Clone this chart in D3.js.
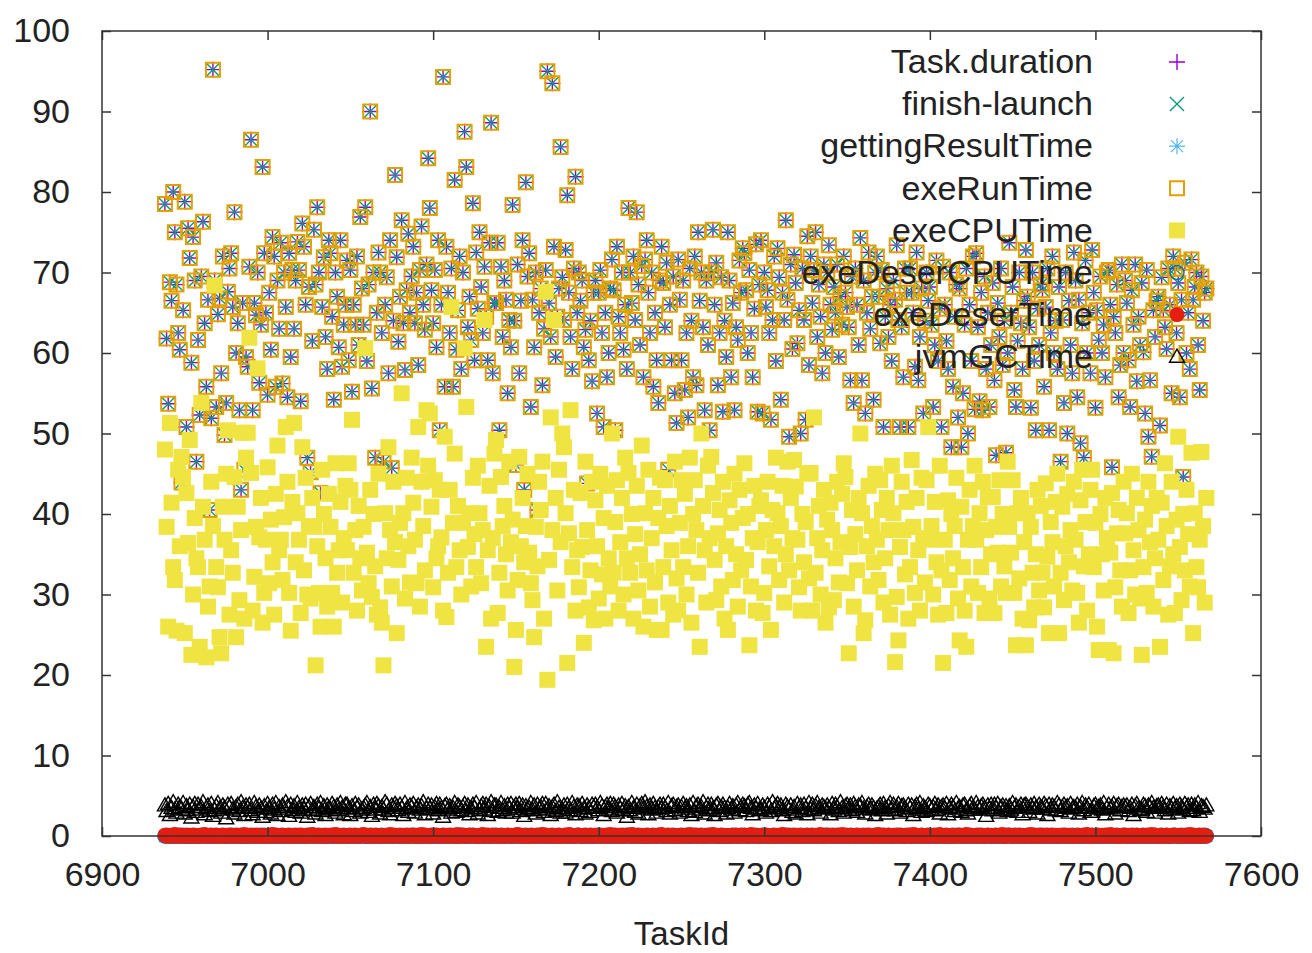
<!DOCTYPE html>
<html>
<head>
<meta charset="utf-8">
<script src="https://cdn.jsdelivr.net/npm/d3@7"></script>
<style>
  html, body { margin: 0; padding: 0; background: #fff; }
  svg { display: block; }
  text { font-family: "Liberation Sans", Arial, sans-serif; fill: #222; }
</style>
</head>
<body>
<svg id="chart" width="1312" height="953"></svg>
<script>
// Task ids run consecutively over the stage
const firstTaskId = 6938;
const lastTaskId = 7567;
const taskIds = d3.range(firstTaskId, lastTaskId + 1);

const xTicks = [6900, 7000, 7100, 7200, 7300, 7400, 7500, 7600];
const yTicks = [0, 10, 20, 30, 40, 50, 60, 70, 80, 90, 100];

// Task.duration per task (seconds), ten tasks per row
const taskDuration = [
  78.5,61.8,53.7,68.8,66.5,80.0,75.0,68.5,62.5,60.4,
  43.9,65.3,78.8,50.8,75.5,71.8,58.8,74.4,69.0,46.5,
  61.6,52.3,69.5,76.3,63.7,55.8,66.6,40.5,51.9,95.2,
  69.0,53.3,64.8,66.8,57.5,72.0,49.8,53.8,67.6,70.5,
  72.4,65.7,77.5,60.0,63.7,52.9,43.0,66.2,45.5,59.5,
  58.3,70.7,86.5,52.9,66.2,64.7,70.0,56.3,63.5,83.1,
  72.4,65.0,54.8,67.5,60.4,74.4,72.0,55.8,69.0,63.0,
  73.7,56.2,70.0,65.7,54.5,72.4,59.5,70.3,63.0,69.0,
  73.8,70.3,54.0,76.1,73.2,66.0,47.0,68.2,45.2,61.5,
  75.3,68.5,78.1,70.0,42.6,65.7,71.9,62.0,58.0,74.0,
  72.4,64.5,54.2,70.0,67.0,60.7,74.0,58.3,63.5,66.0,
  71.5,59.1,70.3,55.2,66.0,63.5,72.0,61.0,76.9,68.0,
  63.5,78.1,59.0,68.5,90.0,55.6,70.0,47.0,65.0,72.5,
  70.0,62.5,46.5,66.0,69.4,57.5,74.0,45.7,64.0,82.1,
  71.9,61.4,67.0,76.5,63.7,57.9,67.8,74.8,65.0,69.5,
  73.2,63.7,67.5,58.5,70.3,75.7,66.0,62.9,71.0,84.2,
  78.0,67.8,63.7,70.3,60.7,74.0,50.4,66.0,94.3,55.8,
  73.2,67.5,62.5,70.5,55.8,81.5,60.4,65.3,72.0,58.0,
  70.0,87.5,83.1,63.2,67.0,61.6,78.6,59.1,72.5,65.5,
  75.0,68.2,62.5,70.7,64.5,59.1,73.7,88.6,57.5,66.2,
  66.2,73.7,50.4,70.7,62.0,69.0,66.6,55.0,64.1,60.7,
  78.4,64.0,46.1,71.0,57.5,66.5,74.0,43.0,81.2,69.5,
  72.4,53.3,66.6,60.7,70.0,40.5,65.0,68.0,56.0,63.0,
  70.3,95.0,66.2,62.0,93.5,73.2,59.5,64.5,68.0,85.6,
  69.4,64.1,72.8,79.6,67.5,62.0,58.0,70.5,81.9,65.0,
  70.0,66.5,69.0,60.7,62.9,43.8,59.1,64.0,56.5,67.5,
  69.0,52.5,67.5,70.3,62.5,50.8,65.0,57.0,60.0,68.0,
  71.6,67.8,50.4,73.2,64.5,62.5,70.0,60.4,66.0,58.0,
  78.0,70.0,66.2,72.0,64.1,77.5,68.5,61.0,70.8,57.0,
  71.6,74.0,67.5,62.5,70.0,55.8,65.0,59.1,53.8,69.0,
  73.2,68.7,63.2,71.2,45.5,66.0,59.1,69.5,55.0,51.3,
  71.6,66.6,59.1,69.0,55.4,62.5,52.0,70.5,64.0,57.0,
  72.0,56.0,75.0,66.5,70.0,63.2,52.9,69.0,61.0,50.4,
  70.0,75.3,66.0,71.2,56.0,62.5,69.4,52.7,64.0,59.5,
  75.0,69.0,57.0,66.2,52.9,63.2,61.6,71.5,67.5,73.0,
  72.4,67.8,60.0,70.3,62.5,57.0,65.5,73.5,52.7,68.5,
  74.0,52.5,70.0,65.7,67.8,62.5,51.7,64.1,72.0,59.0,
  73.0,69.4,54.2,67.5,64.1,76.5,66.6,49.6,71.0,60.5,
  72.2,68.7,61.2,65.3,50.0,70.5,64.1,51.7,74.5,58.5,
  72.0,66.2,70.3,75.0,62.0,68.5,64.5,57.5,71.0,60.0,
  70.0,73.4,66.0,62.9,68.2,65.0,71.0,59.5,67.0,63.5,
  72.0,67.5,65.7,63.2,56.6,69.5,53.8,70.5,66.0,61.0,
  74.3,56.6,69.0,52.5,65.0,72.5,63.0,67.0,54.2,70.0,
  72.0,67.0,61.2,70.3,50.8,64.5,68.0,62.0,66.0,59.0,
  69.0,66.6,73.4,64.1,50.8,63.2,57.0,70.5,67.5,50.8,
  70.5,67.5,65.0,58.3,72.5,56.6,62.0,68.0,52.5,64.0,
  70.0,66.5,68.2,63.5,53.3,61.0,71.5,59.0,65.5,50.8,
  70.7,66.0,61.5,58.0,70.0,48.3,55.8,64.5,68.5,52.0,
  68.0,48.3,55.0,63.5,70.5,50.0,66.0,59.0,72.0,53.0,
  72.4,63.2,54.0,67.5,52.9,69.5,58.0,65.0,53.3,61.0,
  68.7,56.6,47.3,66.2,62.0,70.5,58.5,64.0,47.6,60.0,
  73.7,65.0,68.2,55.4,53.3,61.5,70.0,63.7,58.0,66.5,
  72.8,67.0,63.2,53.2,70.0,59.0,50.4,65.5,61.0,68.5,
  67.8,55.8,65.7,70.5,50.4,62.5,72.0,60.0,64.0,58.0,
  68.2,46.5,64.1,53.8,70.0,50.0,66.5,61.0,57.5,72.5,
  69.0,54.5,66.6,48.8,63.7,47.0,71.5,60.0,65.0,57.5,
  72.8,67.5,53.2,65.3,61.6,69.5,60.0,63.5,57.0,70.0,
  70.3,66.0,45.8,64.5,62.5,68.5,54.5,58.5,71.0,60.0,
  69.0,66.2,59.1,53.3,67.8,63.5,71.0,56.5,64.5,61.0,
  68.7,60.1,52.5,70.3,49.6,56.6,47.1,65.3,62.0,66.5,
  67.0,51.0,69.4,65.3,63.2,60.5,70.5,66.0,55.0,72.0,
  70.5,62.5,68.7,54.5,66.6,44.6,71.2,60.0,65.0,58.0,
  71.6,66.6,68.2,70.0,61.0,55.4,69.5,64.0,67.5,68.0
];

// finish minus launch and executor run time read the same as the duration
const finishLaunch = taskDuration.slice();
const exeRunTime = taskDuration.slice();

// exeCPUTime per task (seconds)
const exeCPUTime = [
  48.0,38.4,26.0,51.3,41.4,33.4,31.8,25.5,45.5,36.0,
  47.1,44.6,25.2,42.6,36.4,49.2,22.5,30.0,39.5,34.5,
  33.4,23.5,53.8,40.9,36.8,22.2,28.5,31.0,44.0,38.5,
  68.4,33.4,30.9,24.7,22.7,40.9,36.8,45.0,50.4,27.5,
  35.5,32.7,44.6,24.7,40.9,29.3,38.0,50.1,27.0,47.0,
  50.1,61.9,45.1,28.0,32.2,38.4,58.1,37.1,42.0,26.5,
  30.2,36.8,45.8,31.4,39.3,34.0,27.5,42.5,48.5,35.5,
  36.8,31.8,39.6,50.8,44.0,30.2,25.5,41.5,51.3,34.0,
  40.1,36.8,27.7,48.3,33.0,44.5,30.0,38.5,29.5,42.0,
  38.4,21.2,36.0,30.2,26.0,45.5,40.0,34.5,28.5,42.5,
  38.4,30.2,26.0,46.3,32.7,35.5,41.5,29.0,37.0,43.5,
  35.5,46.3,43.0,51.7,32.7,38.0,28.0,41.0,34.5,30.5,
  38.4,60.6,35.2,31.4,43.0,29.7,40.0,33.5,27.5,45.0,
  28.4,26.5,21.2,40.1,34.5,48.3,38.0,31.0,44.0,36.5,
  25.2,34.3,38.9,55.0,40.1,29.5,44.5,36.0,31.5,47.0,
  41.4,36.8,31.4,50.8,28.5,44.0,38.5,33.0,52.9,46.0,
  52.5,40.9,30.9,44.2,34.5,36.0,43.0,37.1,28.0,49.6,
  27.2,32.7,43.0,65.7,38.9,47.5,33.4,41.0,35.5,30.0,
  38.9,60.6,53.3,35.9,40.1,31.0,44.5,37.5,33.4,46.0,
  40.1,31.4,38.0,64.1,23.5,35.5,43.5,27.0,37.0,47.5,
  49.2,27.7,32.7,44.6,38.5,41.0,35.0,30.5,46.5,36.5,
  39.3,21.0,25.6,31.8,47.1,36.0,42.0,34.0,38.5,45.0,
  35.2,31.4,29.3,24.7,38.4,33.5,44.0,40.5,46.5,27.0,
  67.6,19.4,34.3,52.0,38.0,64.1,42.0,30.5,45.5,36.5,
  50.0,48.3,40.1,21.5,37.6,52.9,33.4,43.0,28.0,35.5,
  30.9,42.6,35.9,24.0,46.5,38.0,28.4,33.0,44.0,26.8,
  41.7,36.0,29.5,45.0,32.5,39.5,27.0,43.5,34.5,31.0,
  50.0,32.7,39.0,44.2,28.0,36.5,42.0,30.0,47.0,34.5,
  45.1,32.7,40.0,27.0,37.5,43.5,30.5,35.0,48.5,26.0,
  40.1,33.0,45.5,28.5,37.0,42.0,31.5,25.6,39.5,44.5,
  25.6,33.4,44.2,38.5,29.0,41.0,35.5,27.5,46.5,32.0,
  28.0,38.9,44.2,33.4,42.5,30.0,36.0,47.0,26.5,40.0,
  44.2,38.0,32.7,23.5,50.0,41.0,35.5,29.0,46.0,37.0,
  47.1,42.6,34.3,29.3,37.6,40.5,31.0,44.0,27.0,36.0,
  25.6,41.7,38.9,31.8,45.0,35.0,28.5,43.0,33.0,39.5,
  46.3,34.3,40.0,23.7,31.0,37.0,43.5,28.0,36.5,41.0,
  41.7,27.7,30.2,38.0,44.0,33.5,25.6,40.5,36.0,47.0,
  40.1,31.8,38.5,43.5,29.0,35.0,46.5,33.0,42.0,37.0,
  46.7,43.4,36.8,30.9,28.0,40.0,34.0,39.0,45.0,32.0,
  45.1,28.0,52.0,32.7,37.0,41.0,30.0,35.5,43.0,26.5,
  39.3,28.4,41.4,38.0,29.3,34.5,44.0,31.5,36.5,42.5,
  46.3,44.6,31.4,22.7,35.9,40.5,28.5,37.5,33.0,42.0,
  50.0,40.1,25.2,26.8,36.0,43.5,31.0,38.5,34.0,45.0,
  36.8,31.8,44.2,40.5,29.0,34.5,42.0,38.0,27.5,46.0,
  40.1,21.6,29.7,24.3,35.9,44.0,38.0,32.5,41.5,27.0,
  33.4,46.7,38.4,30.2,42.0,35.5,28.0,44.5,37.0,31.5,
  44.2,50.8,36.8,38.5,30.0,41.5,34.0,27.5,46.0,33.0,
  21.5,36.8,27.7,41.7,31.8,40.0,34.5,38.5,44.5,29.5,
  24.3,40.9,33.4,28.0,23.5,36.8,43.0,31.0,38.5,46.0,
  36.8,30.2,40.1,33.4,44.0,27.7,38.0,42.1,29.5,35.0,
  42.1,27.7,38.4,35.2,44.2,31.0,40.0,33.5,30.2,46.5,
  38.4,35.2,44.2,30.2,23.7,40.1,32.0,42.0,27.0,36.5,
  23.7,40.1,26.8,38.4,32.7,28.4,35.0,43.0,30.5,41.0,
  32.7,28.4,43.8,34.7,25.2,39.0,36.5,31.0,41.5,45.0,
  25.2,32.7,40.9,29.3,36.0,42.5,34.0,38.0,30.5,44.0,
  36.8,30.2,26.5,41.7,45.5,33.5,39.0,28.0,35.0,43.0,
  45.5,33.4,38.9,26.0,23.1,40.0,35.0,30.5,42.0,37.0,
  23.1,35.2,42.6,22.7,30.9,37.6,40.5,33.0,28.5,44.0,
  37.6,40.1,27.7,33.0,45.0,35.5,30.0,42.0,38.0,29.5,
  22.5,33.4,39.3,30.2,44.0,36.5,41.0,28.5,34.5,42.0,
  36.8,23.5,41.4,31.8,46.3,38.5,27.5,33.5,44.0,35.0,
  27.7,39.3,49.6,35.9,29.3,40.0,33.0,43.0,37.5,31.0,
  47.6,25.2,40.1,33.4,30.9,36.8,47.7,38.5,29.0,42.0
];

// jvmGCTime per task (seconds)
const jvmGCTime = [
  3.8,3.1,4.0,2.6,3.5,4.2,3.3,2.9,3.9,3.6,
  3.4,4.1,2.8,3.7,3.2,3.9,2.3,3.6,4.0,3.0,
  3.9,3.3,3.6,4.2,2.7,3.5,3.8,3.1,4.0,2.5,
  3.2,3.7,4.1,3.4,2.9,3.8,3.5,2.2,3.9,3.6,
  4.0,3.3,2.8,3.6,3.9,3.1,4.2,3.5,2.6,3.8,
  3.5,3.9,3.2,2.7,4.1,3.6,3.0,3.8,3.4,2.4,
  3.7,3.0,4.0,3.5,2.8,3.9,3.3,4.1,2.6,3.6,
  3.1,3.8,3.4,4.2,3.6,2.5,3.9,3.2,3.7,3.0,
  4.1,3.5,2.9,3.8,3.3,3.9,2.4,3.6,4.0,3.2,
  3.6,2.8,3.9,3.4,4.1,3.1,3.7,2.6,3.8,3.5,
  3.3,4.0,3.6,2.9,3.8,3.2,4.1,3.5,2.7,3.9,
  3.9,3.4,2.6,3.7,3.1,4.0,3.5,3.8,2.9,3.3,
  3.5,3.8,4.1,3.0,3.6,2.5,3.9,3.3,4.0,3.7,
  2.8,3.6,3.3,4.2,3.9,3.1,2.7,3.8,3.5,4.0,
  3.7,3.2,3.9,3.5,2.6,4.1,3.4,3.0,3.8,3.6,
  4.0,2.9,3.5,3.8,3.3,3.7,4.2,2.7,3.4,3.9,
  3.4,3.8,2.8,3.6,4.0,3.2,3.9,3.5,2.4,3.7,
  3.9,3.3,3.7,2.9,3.5,4.1,3.0,3.8,3.6,3.2,
  3.6,4.0,3.1,3.8,2.7,3.4,3.9,3.5,4.1,2.8,
  3.2,3.7,4.0,3.3,3.9,2.6,3.6,4.2,3.1,3.8,
  3.8,3.0,3.5,4.1,3.2,3.7,2.9,3.9,3.4,4.0,
  2.9,3.6,3.9,3.4,4.0,3.1,3.8,2.5,3.7,3.3,
  3.5,4.1,3.2,3.8,2.8,3.9,3.4,3.6,4.0,3.0,
  4.0,3.3,3.7,2.6,3.6,3.9,3.1,4.2,3.5,2.9,
  3.3,3.8,2.9,3.9,3.5,3.2,4.1,3.6,2.7,3.8,
  3.7,3.1,4.0,3.4,2.8,3.8,3.5,3.0,3.9,3.6,
  3.9,3.5,3.2,4.1,3.7,2.6,3.6,3.9,3.3,4.0,
  3.1,3.9,3.6,2.9,3.8,3.4,4.0,3.2,3.7,2.4,
  3.6,3.2,4.1,3.5,3.0,3.9,2.8,3.7,4.0,3.4,
  4.2,3.6,2.7,3.8,3.3,4.0,3.5,2.9,3.6,3.9,
  3.4,3.9,3.5,3.1,4.1,2.8,3.7,3.9,3.2,3.6,
  3.8,2.9,3.6,4.0,3.4,3.7,3.1,3.8,2.6,4.1,
  3.0,3.7,3.9,3.3,3.6,4.2,2.8,3.5,3.9,3.2,
  3.9,3.4,2.6,3.8,4.0,3.1,3.6,3.9,3.5,2.8,
  3.5,4.0,3.3,3.7,2.9,3.8,4.1,3.2,3.6,3.9,
  3.7,3.1,3.9,4.1,3.5,2.7,3.8,3.4,4.0,3.3,
  3.2,3.8,3.5,2.9,3.9,3.6,3.1,4.2,3.4,3.7,
  4.0,3.5,3.8,3.2,2.6,3.9,3.6,3.3,3.8,3.0,
  3.6,2.8,4.0,3.5,3.8,3.1,3.9,3.4,2.7,4.1,
  3.3,3.9,3.2,3.7,4.1,3.5,2.9,3.8,3.6,3.4,
  3.8,3.5,2.7,4.0,3.3,3.9,3.6,3.1,4.2,3.5,
  2.9,3.7,3.9,3.4,3.8,3.2,4.0,3.6,3.0,3.8,
  3.7,4.1,3.4,2.8,3.6,3.9,3.3,3.8,3.5,2.6,
  3.4,3.6,3.9,3.2,4.0,3.5,2.8,3.7,4.1,3.3,
  3.9,3.2,3.6,4.0,2.9,3.7,3.8,3.4,3.1,3.9,
  3.5,3.8,2.6,3.6,3.9,3.3,4.1,3.0,3.7,3.5,
  3.1,3.9,3.7,3.3,3.6,4.0,3.2,3.8,2.8,3.6,
  3.8,3.4,4.0,2.7,3.5,3.9,3.6,3.1,4.1,3.4,
  3.6,3.0,3.8,3.9,3.2,2.8,3.7,4.0,3.5,3.3,
  4.1,3.6,3.3,3.7,3.9,3.5,2.5,3.8,3.4,3.9,
  3.2,3.9,3.5,4.0,2.9,3.6,3.8,3.3,3.7,3.1,
  3.7,3.3,4.1,3.5,3.8,3.0,3.6,3.9,2.7,3.8,
  3.9,3.6,3.0,3.8,3.4,4.0,3.5,2.8,3.9,3.6,
  3.4,4.0,3.7,2.6,3.9,3.3,3.8,3.6,3.2,4.1,
  3.8,3.1,3.6,3.9,3.5,3.7,2.9,4.0,3.4,3.6,
  3.5,3.9,2.8,3.6,4.1,3.2,3.8,3.5,3.9,3.0,
  3.0,3.7,3.9,3.4,3.6,3.8,3.3,4.1,2.7,3.5,
  3.9,3.4,3.6,4.0,2.8,3.7,3.9,3.2,3.6,3.8,
  3.6,3.8,3.1,3.5,3.9,2.6,3.7,4.0,3.4,3.2,
  3.3,3.9,3.7,3.0,3.8,3.6,4.1,3.5,2.9,3.7,
  3.8,3.5,4.0,3.6,3.2,3.9,2.8,3.7,3.4,4.0,
  3.4,3.7,2.9,3.9,3.6,3.3,4.0,3.5,3.8,3.1,
  3.9,3.2,3.8,3.5,4.1,3.0,3.7,3.6,3.4,3.8
];

// Deserialisation and result-fetch times per task (seconds), all close to zero
const exeDeserTime = [
  0.1,0,0,0.1,0,0,0.2,0,0.1,0, 0,0.1,0,0,0,0.1,0,0,0.1,0, 0,0,0.1,0,0.2,0,0,0.1,0,0, 0.1,0,0,0,0.1,0,0,0.1,0,0,
  0,0.1,0,0,0.1,0,0,0,0.2,0, 0.1,0,0,0.1,0,0,0.1,0,0,0, 0,0,0.1,0,0,0.2,0,0,0.1,0, 0.1,0,0,0,0.1,0,0,0.1,0,0,
  0,0.1,0,0.1,0,0,0,0.1,0,0.2, 0,0,0.1,0,0,0.1,0,0,0,0.1, 0.1,0,0,0.2,0,0,0.1,0,0,0, 0,0.1,0,0,0.1,0,0,0,0.1,0,
  0.2,0,0.1,0,0,0.1,0,0,0.1,0, 0,0,0,0.1,0,0,0.2,0,0,0.1, 0.1,0,0,0,0.1,0,0,0.1,0,0, 0,0.1,0,0,0,0.2,0,0,0.1,0,
  0,0,0.1,0,0.1,0,0,0,0.1,0, 0.1,0,0,0.1,0,0,0,0.2,0,0, 0,0.1,0,0,0.1,0,0.1,0,0,0, 0,0,0.2,0,0,0.1,0,0,0.1,0,
  0.1,0,0,0,0.1,0,0,0.1,0,0.1, 0,0.1,0,0.2,0,0,0.1,0,0,0, 0,0,0.1,0,0,0.1,0,0,0.2,0, 0.1,0,0,0.1,0,0,0,0.1,0,0,
  0,0.1,0,0,0.2,0,0.1,0,0,0, 0.1,0,0,0.1,0,0,0,0.1,0,0.1, 0,0,0.1,0,0,0.1,0,0,0,0.2, 0,0.1,0,0,0.1,0,0,0.1,0,0,
  0.1,0,0.2,0,0,0.1,0,0,0.1,0, 0,0,0.1,0,0.1,0,0,0,0.1,0, 0.2,0,0,0.1,0,0,0.1,0,0,0, 0,0.1,0,0,0,0.1,0,0.2,0,0,
  0.1,0,0,0.1,0,0,0.1,0,0,0.1, 0,0.2,0,0,0.1,0,0,0.1,0,0, 0,0,0.1,0,0,0.1,0,0,0.1,0, 0.1,0,0,0,0.2,0,0.1,0,0,0,
  0,0.1,0,0.1,0,0,0,0.1,0,0, 0.1,0,0,0.2,0,0.1,0,0,0,0.1, 0,0,0.1,0,0,0,0.1,0,0.1,0, 0.1,0,0,0.1,0,0,0.2,0,0,0,
  0,0.1,0,0,0.1,0,0,0.1,0,0.2, 0,0,0.1,0,0,0.1,0,0,0.1,0, 0.1,0,0,0,0.1,0,0.1,0,0,0, 0,0.2,0,0,0.1,0,0,0.1,0,0,
  0.1,0,0.1,0,0,0.1,0,0,0,0.1, 0,0,0.2,0,0.1,0,0,0.1,0,0, 0.1,0,0,0.1,0,0,0.1,0,0.2,0, 0,0.1,0,0,0,0.1,0,0,0.1,0,
  0,0,0.1,0,0.2,0,0,0.1,0,0, 0.1,0,0,0.1,0,0,0,0.1,0,0.1, 0,0.1,0,0,0.1,0,0.2,0,0,0, 0.1,0,0,0,0.1,0,0,0.1,0,0,
  0,0.1,0,0.2,0,0,0.1,0,0,0.1, 0,0,0.1,0,0,0.1,0,0,0.1,0, 0.1,0,0,0.1,0,0,0.1,0,0,0, 0,0,0.1,0,0.1,0,0,0.2,0,0,
  0.1,0,0,0,0.1,0,0.1,0,0,0.1, 0,0.2,0,0,0.1,0,0,0,0.1,0, 0,0,0.1,0,0,0.1,0,0.1,0,0, 0.1,0,0,0.1,0,0,0.2,0,0.1,0,
  0,0.1,0,0,0,0.1,0,0,0.1,0, 0.1,0,0.1,0,0,0,0.1,0,0,0.2, 0,0.1,0,0,0.1,0,0,0.1,0,0
];

const exeDeserCPUTime = [
  0,0.1,0,0,0,0.1,0,0,0.1,0, 0.1,0,0,0.1,0,0,0,0.1,0,0, 0,0,0.1,0,0.1,0,0,0,0.1,0, 0,0.1,0,0,0,0.1,0,0,0,0.1,
  0.1,0,0,0.1,0,0,0.1,0,0,0, 0,0,0.1,0,0,0.1,0,0,0.1,0, 0.1,0,0,0,0.1,0,0,0.1,0,0, 0,0.1,0,0,0,0.1,0,0,0,0.1,
  0,0,0.1,0,0,0,0.1,0,0.1,0, 0.1,0,0,0.1,0,0,0,0.1,0,0, 0,0.1,0,0,0.1,0,0,0,0.1,0, 0,0,0.1,0,0,0.1,0,0,0,0.1,
  0.1,0,0,0,0.1,0,0,0.1,0,0, 0,0.1,0,0,0,0.1,0,0,0.1,0, 0,0,0.1,0,0,0,0.1,0,0,0.1, 0.1,0,0,0.1,0,0,0,0.1,0,0,
  0,0.1,0,0,0.1,0,0,0,0.1,0, 0,0,0.1,0,0,0.1,0,0,0,0.1, 0.1,0,0,0,0.1,0,0.1,0,0,0, 0,0.1,0,0,0,0.1,0,0,0.1,0,
  0.1,0,0,0.1,0,0,0,0.1,0,0, 0,0,0.1,0,0.1,0,0,0,0.1,0, 0,0.1,0,0,0,0.1,0,0.1,0,0, 0.1,0,0,0,0.1,0,0,0,0.1,0,
  0,0,0.1,0,0,0.1,0,0,0,0.1, 0.1,0,0,0,0.1,0,0,0.1,0,0, 0,0.1,0,0.1,0,0,0,0.1,0,0, 0,0,0.1,0,0,0,0.1,0,0,0.1,
  0.1,0,0,0.1,0,0,0.1,0,0,0, 0,0.1,0,0,0,0.1,0,0,0.1,0, 0.1,0,0,0,0.1,0,0,0.1,0,0, 0,0,0.1,0,0,0.1,0,0,0,0.1,
  0,0.1,0,0,0.1,0,0,0,0.1,0, 0.1,0,0.1,0,0,0,0.1,0,0,0, 0,0,0,0.1,0,0.1,0,0,0.1,0, 0.1,0,0,0,0.1,0,0,0.1,0,0,
  0,0.1,0,0.1,0,0,0,0,0.1,0, 0,0,0.1,0,0,0.1,0,0.1,0,0, 0.1,0,0,0,0.1,0,0,0,0.1,0, 0,0.1,0,0,0,0.1,0,0,0,0.1,
  0.1,0,0,0.1,0,0,0.1,0,0,0, 0,0.1,0,0,0.1,0,0,0,0.1,0, 0,0,0.1,0,0,0.1,0,0,0,0.1, 0.1,0,0,0,0.1,0,0,0.1,0,0,
  0,0,0.1,0,0.1,0,0,0,0.1,0, 0.1,0,0,0.1,0,0,0,0.1,0,0, 0,0.1,0,0,0,0.1,0,0,0.1,0, 0,0,0.1,0,0,0,0.1,0,0,0.1,
  0.1,0,0,0,0.1,0,0.1,0,0,0, 0,0.1,0,0.1,0,0,0,0.1,0,0, 0,0,0.1,0,0,0.1,0,0,0,0.1, 0.1,0,0,0.1,0,0,0.1,0,0,0,
  0,0.1,0,0,0,0.1,0,0,0.1,0, 0.1,0,0,0.1,0,0,0.1,0,0,0, 0,0,0.1,0,0.1,0,0,0,0.1,0, 0,0.1,0,0,0,0.1,0,0.1,0,0,
  0.1,0,0,0.1,0,0,0,0,0.1,0, 0,0,0.1,0,0,0.1,0,0,0,0.1, 0.1,0,0,0,0.1,0,0,0.1,0,0, 0,0.1,0,0,0.1,0,0,0,0.1,0,
  0,0,0.1,0,0,0.1,0,0,0,0.1, 0.1,0,0,0,0.1,0,0,0.1,0,0, 0,0.1,0,0,0,0.1,0,0,0.1,0
];

const gettingResultTime = [
  0,0,0,0,0,0,0,0,0,0, 0,0,0,0,0,0,0,0,0,0, 0,0,0,0,0,0,0,0,0,0, 0,0,0,0,0,0,0,0,0,0,
  0,0,0,0,0,0,0,0,0,0, 0,0,0,0,0,0,0,0,0,0, 0,0,0,0,0,0,0,0,0,0, 0,0,0,0,0,0,0,0,0,0,
  0,0,0,0,0,0,0,0,0,0, 0,0,0,0,0,0,0,0,0,0, 0,0,0,0,0,0,0,0,0,0, 0,0,0,0,0,0,0,0,0,0,
  0,0,0,0,0,0,0,0,0,0, 0,0,0,0,0,0,0,0,0,0, 0,0,0,0,0,0,0,0,0,0, 0,0,0,0,0,0,0,0,0,0,
  0,0,0,0,0,0,0,0,0,0, 0,0,0,0,0,0,0,0,0,0, 0,0,0,0,0,0,0,0,0,0, 0,0,0,0,0,0,0,0,0,0,
  0,0,0,0,0,0,0,0,0,0, 0,0,0,0,0,0,0,0,0,0, 0,0,0,0,0,0,0,0,0,0, 0,0,0,0,0,0,0,0,0,0,
  0,0,0,0,0,0,0,0,0,0, 0,0,0,0,0,0,0,0,0,0, 0,0,0,0,0,0,0,0,0,0, 0,0,0,0,0,0,0,0,0,0,
  0,0,0,0,0,0,0,0,0,0, 0,0,0,0,0,0,0,0,0,0, 0,0,0,0,0,0,0,0,0,0, 0,0,0,0,0,0,0,0,0,0,
  0,0,0,0,0,0,0,0,0,0, 0,0,0,0,0,0,0,0,0,0, 0,0,0,0,0,0,0,0,0,0, 0,0,0,0,0,0,0,0,0,0,
  0,0,0,0,0,0,0,0,0,0, 0,0,0,0,0,0,0,0,0,0, 0,0,0,0,0,0,0,0,0,0, 0,0,0,0,0,0,0,0,0,0,
  0,0,0,0,0,0,0,0,0,0, 0,0,0,0,0,0,0,0,0,0, 0,0,0,0,0,0,0,0,0,0, 0,0,0,0,0,0,0,0,0,0,
  0,0,0,0,0,0,0,0,0,0, 0,0,0,0,0,0,0,0,0,0, 0,0,0,0,0,0,0,0,0,0, 0,0,0,0,0,0,0,0,0,0,
  0,0,0,0,0,0,0,0,0,0, 0,0,0,0,0,0,0,0,0,0, 0,0,0,0,0,0,0,0,0,0, 0,0,0,0,0,0,0,0,0,0,
  0,0,0,0,0,0,0,0,0,0, 0,0,0,0,0,0,0,0,0,0, 0,0,0,0,0,0,0,0,0,0, 0,0,0,0,0,0,0,0,0,0,
  0,0,0,0,0,0,0,0,0,0, 0,0,0,0,0,0,0,0,0,0, 0,0,0,0,0,0,0,0,0,0, 0,0,0,0,0,0,0,0,0,0,
  0,0,0,0,0,0,0,0,0,0, 0,0,0,0,0,0,0,0,0,0, 0,0,0,0,0,0,0,0,0,0
];

// Plot order, legend labels and point styles (gnuplot default palette)
const seriesLabels = ["Task.duration", "finish-launch", "gettingResultTime", "exeRunTime",
                      "exeCPUTime", "exeDeserCPUTime", "exeDeserTime", "jvmGCTime"];
const seriesValues = [taskDuration, finishLaunch, gettingResultTime, exeRunTime,
                      exeCPUTime, exeDeserCPUTime, exeDeserTime, jvmGCTime];
const seriesColors = ["#9400d3", "#009e73", "#56b4e9", "#e69f00",
                      "#f0e442", "#0072b2", "#e51e10", "#000000"];
const seriesShapes = ["plus", "cross", "star", "box", "boxFilled", "ring", "disc", "triangle"];

const width = 1312, height = 953;
const margin = { left: 102, right: 51, top: 31, bottom: 117 };

const x = d3.scaleLinear().domain([6900, 7600]).range([margin.left, width - margin.right]);
const y = d3.scaleLinear().domain([0, 100]).range([height - margin.bottom, margin.top]);

const svg = d3.select("#chart");

// point glyphs, centred on the origin
const shapePath = {
  plus: "M-8,0H8M0,-8V8",
  cross: "M-7,-7L7,7M-7,7L7,-7",
  star: "M-8,0H8M0,-8V8M-6,-6L6,6M-6,6L6,-6",
  box: "M-7,-7H7V7H-7Z",
  boxFilled: "M-8,-8H8V8H-8Z",
  ring: d3.symbol(d3.symbolCircle, Math.PI * 49)(),
  disc: d3.symbol(d3.symbolCircle, Math.PI * 56)(),
  triangle: "M0,-7.5L7.5,5.5H-7.5Z"
};
const filledShapes = new Set(["boxFilled", "disc"]);
const strokeWidth = { plus: 1.4, cross: 1.4, star: 1.2, box: 2, ring: 1.5, triangle: 1.4 };

function styleGlyph(sel, shape, color) {
  sel.attr("d", shapePath[shape]);
  if (filledShapes.has(shape)) {
    sel.attr("fill", color).attr("stroke", "none");
  } else {
    sel.attr("fill", "none").attr("stroke", color).attr("stroke-width", strokeWidth[shape]);
  }
}

// data layers, drawn in plot order
const plotLayer = svg.append("g").attr("class", "points");
seriesLabels.forEach((label, s) => {
  const pts = taskIds.map((t, i) => ({ t, v: seriesValues[s][i] }));
  plotLayer.append("g")
    .attr("class", "series")
    .selectAll("path")
    .data(pts)
    .join("path")
    .attr("transform", d => `translate(${x(d.t)},${y(d.v)})`)
    .call(styleGlyph, seriesShapes[s], seriesColors[s]);
});

// axes: inward ticks, mirrored on top and right
const axisColor = "#333";
const tickLen = 9;
const fontSize = 34;

const gx = svg.append("g")
  .attr("transform", `translate(0,${y(0)})`)
  .call(d3.axisBottom(x).tickValues(xTicks).tickFormat(d3.format("d"))
    .tickSize(-tickLen).tickPadding(26));
const gxTop = svg.append("g")
  .attr("transform", `translate(0,${y(100)})`)
  .call(d3.axisTop(x).tickValues(xTicks).tickFormat("").tickSize(-tickLen));
const gy = svg.append("g")
  .attr("transform", `translate(${x(6900)},0)`)
  .call(d3.axisLeft(y).tickValues(yTicks).tickFormat(d3.format("d"))
    .tickSize(-tickLen).tickPadding(32));
const gyRight = svg.append("g")
  .attr("transform", `translate(${x(7600)},0)`)
  .call(d3.axisRight(y).tickValues(yTicks).tickFormat("").tickSize(-tickLen));

[gx, gxTop, gy, gyRight].forEach(g => {
  g.select(".domain").remove();
  g.selectAll(".tick line").attr("stroke", axisColor).attr("stroke-width", 1.5);
  g.selectAll(".tick text")
    .attr("font-family", "'Liberation Sans', Arial, sans-serif")
    .attr("font-size", fontSize)
    .attr("fill", "#222");
});
gy.selectAll(".tick text").attr("dy", "0.31em");

// plot border
svg.append("rect")
  .attr("x", x(6900)).attr("y", y(100))
  .attr("width", x(7600) - x(6900)).attr("height", y(0) - y(100))
  .attr("fill", "none").attr("stroke", axisColor).attr("stroke-width", 1.5);

// axis title
svg.append("text")
  .attr("x", (x(6900) + x(7600)) / 2)
  .attr("y", 945)
  .attr("text-anchor", "middle")
  .attr("font-size", 33)
  .text("TaskId");

// key, top right inside the frame
const keyTextX = 1093, keySampleX = 1177, keyTop = 62, keyStep = 42.1;
const key = svg.append("g").attr("class", "key");
seriesLabels.forEach((label, s) => {
  const ky = keyTop + s * keyStep;
  key.append("text")
    .attr("x", keyTextX).attr("y", ky).attr("dy", "0.33em")
    .attr("text-anchor", "end")
    .attr("font-size", fontSize)
    .text(label);
  key.append("path")
    .attr("transform", `translate(${keySampleX},${ky})`)
    .call(styleGlyph, seriesShapes[s], seriesColors[s]);
});
</script>
</body>
</html>
